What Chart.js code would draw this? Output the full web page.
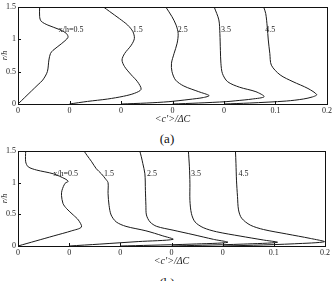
<!DOCTYPE html>
<html>
<head>
<meta charset="utf-8">
<script src="https://cdn.jsdelivr.net/npm/chart.js@4.4.1/dist/chart.umd.min.js"></script>
<style>
    body { margin: 0; background: #fff; }
    #wrap { position: relative; width: 334px; height: 281px; overflow: hidden; font-family: "Liberation Serif", serif; }
    canvas { position: absolute; left: 0; }
    .cap { position: absolute; width: 334px; text-align: center; font-size: 13px; line-height: 15px; color: #111; }
</style>
</head>
<body>
<div id="wrap">
    <canvas id="chartA" width="334" height="125" style="top:0"></canvas>
    <div class="cap" style="top:131px">(a)</div>
    <canvas id="chartB" width="334" height="123" style="top:144px"></canvas>
    <div class="cap" style="top:275px">(b)</div>
</div>
<script>
// shifted profiles: each x/h station is offset by 0.1 along the x axis
const offsets = [0, 0.1, 0.2, 0.3, 0.4];
const stationLabels = ['x/h=0.5', '1.5', '2.5', '3.5', '4.5'];
const xTickLabels = ['0', '0', '0', '0', '0', '0.1', '0.2'];
const yTickLabels = ['0', '0.5', '1', '1.5'];

// panel (a): r/h and <c'>/dC
const a05R = [0, 0.1, 0.2, 0.3, 0.37, 0.5, 0.68, 0.78, 0.83, 0.93, 1.03, 1.09, 1.15, 1.22, 1.28, 1.35, 1.5];
const a05C = [0, 0.013, 0.026, 0.039, 0.048, 0.057, 0.06, 0.063, 0.068, 0.084, 0.097, 0.094, 0.081, 0.058, 0.045, 0.042, 0.042];
const a15R = [0, 0.04, 0.077, 0.12, 0.165, 0.227, 0.345, 0.45, 0.577, 0.68, 0.78, 0.91, 1.015, 1.12, 1.22, 1.32, 1.43, 1.5];
const a15C = [0, 0.035, 0.074, 0.105, 0.126, 0.139, 0.132, 0.12, 0.107, 0.102, 0.107, 0.12, 0.126, 0.123, 0.113, 0.097, 0.078, 0.066];
const a25R = [0, 0.015, 0.036, 0.07, 0.1, 0.13, 0.19, 0.278, 0.37, 0.5, 0.63, 0.78, 0.94, 1.09, 1.22, 1.35, 1.5];
const a25C = [0, 0.05, 0.093, 0.132, 0.16, 0.171, 0.151, 0.122, 0.106, 0.099, 0.098, 0.103, 0.109, 0.111, 0.107, 0.099, 0.087];
const a35R = [0, 0.015, 0.036, 0.05, 0.077, 0.113, 0.19, 0.26, 0.345, 0.47, 0.63, 0.83, 1.09, 1.3, 1.5];
const a35C = [0, 0.05, 0.104, 0.123, 0.155, 0.178, 0.162, 0.13, 0.107, 0.097, 0.094, 0.093, 0.092, 0.09, 0.081];
const a45R = [0, 0.015, 0.046, 0.077, 0.11, 0.145, 0.24, 0.345, 0.45, 0.6, 0.78, 0.99, 1.19, 1.4, 1.5];
const a45C = [0, 0.05, 0.121, 0.154, 0.172, 0.18, 0.163, 0.134, 0.109, 0.092, 0.089, 0.086, 0.084, 0.081, 0.077];
const aLabelX = [0.079, 0.223, 0.31, 0.394, 0.48];
const aLabelY = [1.15, 1.15, 1.15, 1.15, 1.15];

// panel (b)
const b05R = [0, 0.08, 0.16, 0.24, 0.3, 0.41, 0.49, 0.59, 0.67, 0.8, 0.88, 0.99, 1.02, 1.06, 1.14, 1.2, 1.25, 1.33, 1.5];
const b05C = [0, 0.035, 0.07, 0.105, 0.124, 0.118, 0.108, 0.095, 0.088, 0.085, 0.086, 0.092, 0.098, 0.092, 0.069, 0.036, 0.02, 0.015, 0.015];
const b15R = [0, 0.03, 0.07, 0.105, 0.16, 0.24, 0.31, 0.38, 0.49, 0.64, 0.83, 1.0, 1.06, 1.14, 1.22, 1.33, 1.43, 1.5];
const b15C = [0, 0.06, 0.135, 0.203, 0.183, 0.15, 0.111, 0.092, 0.082, 0.078, 0.076, 0.076, 0.071, 0.063, 0.053, 0.044, 0.035, 0.029];
const b25R = [0, 0.012, 0.03, 0.058, 0.105, 0.18, 0.25, 0.31, 0.38, 0.49, 0.64, 0.88, 1.14, 1.3, 1.41, 1.5];
const b25C = [0, 0.06, 0.14, 0.21, 0.182, 0.142, 0.103, 0.071, 0.058, 0.051, 0.05, 0.049, 0.048, 0.044, 0.041, 0.038];
const b35R = [0, 0.012, 0.03, 0.058, 0.094, 0.157, 0.225, 0.29, 0.38, 0.51, 0.72, 0.99, 1.25, 1.5];
const b35C = [0, 0.06, 0.14, 0.207, 0.18, 0.134, 0.088, 0.062, 0.046, 0.039, 0.036, 0.036, 0.035, 0.033];
const b45R = [0, 0.012, 0.035, 0.068, 0.12, 0.19, 0.26, 0.33, 0.44, 0.57, 0.78, 1.04, 1.3, 1.5];
const b45C = [0, 0.06, 0.14, 0.199, 0.171, 0.125, 0.08, 0.054, 0.037, 0.031, 0.029, 0.027, 0.026, 0.025];
const bLabelX = [0.069, 0.168, 0.252, 0.338, 0.431];
const bLabelY = [1.14, 1.14, 1.14, 1.14, 1.14];

const serif = '"Liberation Serif", "Times New Roman", serif';

// frame, inward ticks and station labels
const framePlugin = {
    id: 'frame',
    afterDraw(chart, args, opts) {
        const { ctx, chartArea: a, scales } = chart;
        ctx.save();
        ctx.strokeStyle = '#111';
        ctx.lineWidth = 1;
        ctx.strokeRect(Math.round(a.left) + 0.5, Math.round(a.top) + 0.5,
            Math.round(a.right - a.left), Math.round(a.bottom - a.top));
        ctx.beginPath();
        scales.x.ticks.forEach(t => {
            const px = Math.round(scales.x.getPixelForValue(t.value)) + 0.5;
            ctx.moveTo(px, a.bottom);
            ctx.lineTo(px, a.bottom - 3);
        });
        scales.y.ticks.forEach(t => {
            const py = Math.round(scales.y.getPixelForValue(t.value)) + 0.5;
            ctx.moveTo(a.left, py);
            ctx.lineTo(a.left + 3, py);
        });
        ctx.stroke();
        ctx.fillStyle = '#222';
        ctx.font = '8px ' + serif;
        ctx.textBaseline = 'middle';
        opts.text.forEach((s, i) => {
            ctx.fillText(s, scales.x.getPixelForValue(opts.x[i]), scales.y.getPixelForValue(opts.y[i]));
        });
        ctx.restore();
    }
};

function makePanel(id, rs, cs, labelX, labelY, padRight) {
    const datasets = rs.map((r, k) => ({
        data: r.map((v, i) => ({ x: offsets[k] + cs[k][i], y: v })),
        showLine: true,
        borderColor: '#1a1a1a',
        borderWidth: 1,
        pointRadius: 0,
        tension: 0.3,
        fill: false
    }));
    new Chart(document.getElementById(id), {
        type: 'scatter',
        data: { datasets: datasets },
        options: {
            responsive: false,
            animation: false,
            layout: { padding: { left: 0, right: padRight, top: 7, bottom: 0 } },
            plugins: {
                legend: { display: false },
                tooltip: { enabled: false },
                frame: { text: stationLabels, x: labelX, y: labelY }
            },
            scales: {
                x: {
                    type: 'linear',
                    min: 0,
                    max: 0.6,
                    afterFit: s => { s.height = 21; },
                    grid: { display: false, drawTicks: false },
                    border: { display: false },
                    ticks: {
                        stepSize: 0.1,
                        padding: 2,
                        maxRotation: 0,
                        color: '#222',
                        font: { family: serif, size: 8 },
                        callback: (v, i) => xTickLabels[i]
                    },
                    title: {
                        display: true,
                        text: "<c'>/ΔC",
                        color: '#222',
                        padding: 0,
                        font: { family: serif, size: 10, style: 'italic' }
                    }
                },
                y: {
                    min: 0,
                    max: 1.5,
                    afterFit: s => { s.width = 18; },
                    grid: { display: false, drawTicks: false },
                    border: { display: false },
                    ticks: {
                        stepSize: 0.5,
                        padding: 2,
                        color: '#222',
                        font: { family: serif, size: 8 },
                        callback: (v, i) => yTickLabels[i]
                    },
                    title: {
                        display: true,
                        text: 'r/h',
                        color: '#222',
                        padding: 0,
                        font: { family: serif, size: 8, style: 'italic' }
                    }
                }
            }
        },
        plugins: [framePlugin]
    });
}

makePanel('chartA', [a05R, a15R, a25R, a35R, a45R], [a05C, a15C, a25C, a35C, a45C], aLabelX, aLabelY, 6);
makePanel('chartB', [b05R, b15R, b25R, b35R, b45R], [b05C, b15C, b25C, b35C, b45C], bLabelX, bLabelY, 9);
</script>
</body>
</html>
